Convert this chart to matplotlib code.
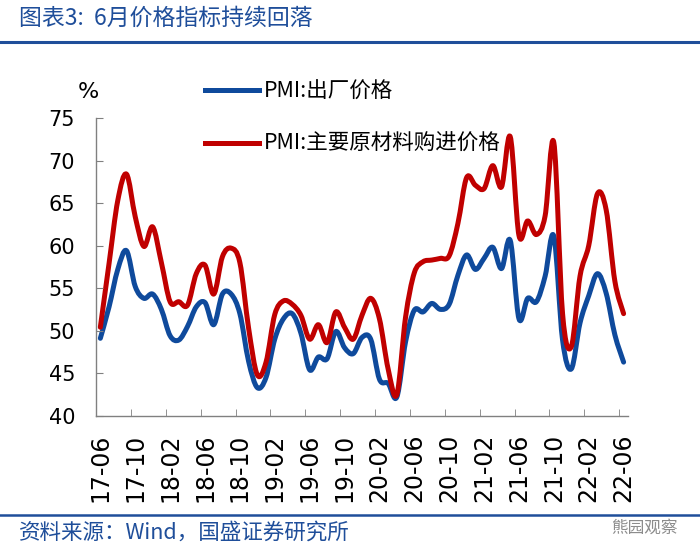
import numpy as np
import matplotlib.pyplot as plt
from matplotlib.path import Path
from matplotlib.patches import PathPatch
from matplotlib.lines import Line2D

# monthly data, 2017-06 .. 2022-06
months = ['17-06', '17-07', '17-08', '17-09', '17-10', '17-11', '17-12',
          '18-01', '18-02', '18-03', '18-04', '18-05', '18-06',
          '18-07', '18-08', '18-09', '18-10', '18-11', '18-12',
          '19-01', '19-02', '19-03', '19-04', '19-05', '19-06',
          '19-07', '19-08', '19-09', '19-10', '19-11', '19-12',
          '20-01', '20-02', '20-03', '20-04', '20-05', '20-06',
          '20-07', '20-08', '20-09', '20-10', '20-11', '20-12',
          '21-01', '21-02', '21-03', '21-04', '21-05', '21-06',
          '21-07', '21-08', '21-09', '21-10', '21-11', '21-12',
          '22-01', '22-02', '22-03', '22-04', '22-05', '22-06']

# PMI: 出厂价格
output_price = [49.1, 52.8, 57.2, 59.4, 55.2, 53.8, 54.3,
                52.5, 49.4, 48.9, 50.5, 52.8, 53.3,
                50.7, 54.3, 54.3, 52.0, 46.4, 43.3,
                44.5, 49.0, 51.4, 52.0, 49.7, 45.4,
                46.9, 46.7, 49.9, 48.0, 47.3, 49.2,
                49.0, 44.3, 43.8, 42.2, 48.7, 52.4,
                52.2, 53.2, 52.5, 53.1, 56.5, 58.9,
                57.2, 58.5, 59.8, 57.3, 60.6, 51.4,
                53.8, 53.4, 56.4, 61.1, 48.9, 45.5,
                50.9, 54.1, 56.7, 54.4, 49.5, 46.3]

# PMI: 主要原材料购进价格
input_price = [50.4, 57.9, 65.3, 68.4, 63.4, 59.9, 62.2,
               58.0, 53.4, 53.4, 53.0, 56.7, 57.7,
               54.3, 58.7, 59.7, 58.0, 50.3, 44.8,
               46.3, 51.9, 53.5, 53.1, 51.8, 49.0,
               50.7, 48.6, 52.2, 50.4, 49.0, 51.8,
               53.8, 51.4, 45.5, 42.5, 51.6, 56.8,
               58.1, 58.3, 58.5, 58.8, 62.6, 68.0,
               67.1, 66.7, 69.4, 66.9, 72.8, 61.2,
               62.9, 61.3, 63.5, 72.1, 52.0, 48.1,
               56.4, 60.0, 66.1, 64.2, 55.8, 52.0]

series_names = ['PMI:出厂价格', 'PMI:主要原材料购进价格']

BLUE = '#0F4A9C'
RED = '#C00000'
TITLE_BLUE = '#1F4E9A'
CJK = ['Noto Sans CJK SC', 'DejaVu Sans']


def smooth_path(xs, ys):
    """Excel-style smoothed line: cubic bezier segments through every point."""
    pts = np.column_stack([xs, ys]).astype(float)
    n = len(pts)
    verts = [pts[0]]
    codes = [Path.MOVETO]
    for i in range(n - 1):
        p0 = pts[max(i - 1, 0)]
        p1 = pts[i]
        p2 = pts[i + 1]
        p3 = pts[min(i + 2, n - 1)]
        c1 = p1 + (p2 - p0) / 6.0
        c2 = p2 - (p3 - p1) / 6.0
        verts += [c1, c2, p2]
        codes += [Path.CURVE4] * 3
    return Path(verts, codes)


plt.rcParams['font.family'] = ['DejaVu Sans', 'Noto Sans CJK SC']

fig = plt.figure(figsize=(7, 5.58), dpi=100)
ax = fig.add_axes([0.1371, 0.2550, 0.76, 0.5335])

x = np.arange(len(months))
for vals, col in [(output_price, BLUE), (input_price, RED)]:
    ax.add_patch(PathPatch(smooth_path(x, vals), fill=False, edgecolor=col,
                           lw=3.6, capstyle='round', joinstyle='round'))

ax.set_xlim(-0.5, len(months) - 0.5)
ax.set_ylim(40, 75)

for s in ['top', 'right']:
    ax.spines[s].set_visible(False)
for s in ['left', 'bottom']:
    ax.spines[s].set_color('#808080')
    ax.spines[s].set_linewidth(1.0)

ax.set_yticks(np.arange(40, 76, 5))
ax.tick_params(axis='y', direction='in', length=5, color='#808080',
               labelsize=15, pad=15)

ax.set_xticks(x[::4])
ax.set_xticklabels(months[::4], rotation=90, va='top', ha='center')
ax.tick_params(axis='x', which='major', length=0, labelsize=17, pad=13)
ax.set_xticks(x[::4][1:] - 0.5, minor=True)
ax.tick_params(axis='x', which='minor', direction='in', length=5,
               color='#808080')

handles = [Line2D([], [], color=BLUE, lw=3.6),
           Line2D([], [], color=RED, lw=3.6)]
fig.legend(handles, series_names, loc='upper left',
           bbox_to_anchor=(0.293, 0.855), frameon=False, borderpad=0,
           borderaxespad=0, handlelength=2.5, handletextpad=0.25,
           labelspacing=1.4, prop={'family': CJK, 'size': 15.5})

fig.text(0.126, 1 - 92 / 558, '%', fontsize=16, ha='center', va='center')

# header and footer
fig.text(0.027, 1 - 18 / 558, '图表3:  6月价格指标持续回落', fontsize=16.5,
         color=TITLE_BLUE, style='italic', family=CJK, va='center')
fig.add_artist(Line2D([0, 1], [1 - 42 / 558] * 2, color=TITLE_BLUE, lw=2.2,
                      transform=fig.transFigure))
fig.add_artist(Line2D([0, 1], [1 - 515 / 558] * 2, color=TITLE_BLUE, lw=1.8,
                      transform=fig.transFigure))
fig.text(0.027, 1 - 533 / 558, '资料来源：Wind，国盛证券研究所', fontsize=15.5,
         color=TITLE_BLUE, style='italic', family=CJK, va='center')
fig.text(0.968, 1 - 528 / 558, '熊园观察', fontsize=12, color='#8c8c8c',
         family=CJK, ha='right', va='center')

fig.savefig('out.png', dpi=100)
